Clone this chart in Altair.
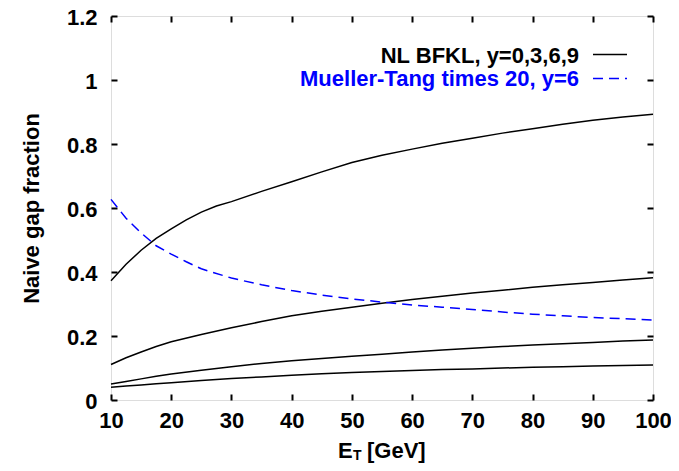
import altair as alt
import pandas as pd

# ---- data ----
et_top = [10, 12.5, 15, 17.5, 20, 22.5, 25, 27.5, 30, 35, 40, 45, 50, 55, 60, 65, 70, 75, 80, 85, 90, 95, 100]
gap_y0 = [0.373, 0.424, 0.468, 0.505, 0.535, 0.563, 0.587, 0.606, 0.620, 0.652, 0.682, 0.713, 0.742, 0.765,
          0.784, 0.802, 0.818, 0.834, 0.848, 0.862, 0.874, 0.884, 0.893]

et = [10, 12.5, 15, 17.5, 20, 25, 30, 35, 40, 45, 50, 55, 60, 65, 70, 75, 80, 85, 90, 95, 100]
gap_y3 = [0.111, 0.132, 0.150, 0.167, 0.182, 0.205, 0.226, 0.245, 0.263, 0.277, 0.290, 0.302, 0.314,
          0.324, 0.334, 0.343, 0.352, 0.360, 0.367, 0.375, 0.382]
gap_y6 = [0.050, 0.058, 0.066, 0.074, 0.081, 0.093, 0.104, 0.114, 0.123, 0.130, 0.137, 0.143, 0.150,
          0.156, 0.162, 0.167, 0.172, 0.176, 0.180, 0.184, 0.1875]
gap_y9 = [0.040, 0.044, 0.047, 0.051, 0.054, 0.061, 0.067, 0.072, 0.077, 0.082, 0.086, 0.089, 0.092,
          0.095, 0.097, 0.100, 0.102, 0.104, 0.106, 0.108, 0.109]

et_mt = [10, 12.5, 15, 17.5, 20, 22.5, 25, 30, 35, 40, 45, 50, 55, 60, 65, 70, 75, 80, 85, 90, 95, 100]
mueller_tang_x20 = [0.627, 0.568, 0.522, 0.482, 0.456, 0.432, 0.410, 0.381, 0.360, 0.342, 0.328, 0.316,
                    0.306, 0.297, 0.290, 0.283, 0.275, 0.268, 0.263, 0.258, 0.254, 0.250]

x_ticks = [10, 20, 30, 40, 50, 60, 70, 80, 90, 100]
y_ticks = [0, 0.2, 0.4, 0.6, 0.8, 1, 1.2]

legend_labels = ["NL BFKL, y=0,3,6,9", "Mueller-Tang times 20, y=6"]
x_title_parts = ["E", "T", "[GeV]"]
y_title = "Naive gap fraction"

# ---- tables ----
rows = []
for name, xs, ys in [("y=0", et_top, gap_y0), ("y=3", et, gap_y3), ("y=6", et, gap_y6), ("y=9", et, gap_y9)]:
    for x, y in zip(xs, ys):
        rows.append({"E": x, "v": y, "series": name})
df_bfkl = pd.DataFrame(rows)
df_mt = pd.DataFrame({"E": et_mt, "v": mueller_tang_x20})

W, H = 542, 384
FONT = "Liberation Sans"

x_scale = alt.Scale(domain=[10, 100], nice=False, zero=False)
y_scale = alt.Scale(domain=[0, 1.2], nice=False, zero=False)

x_axis = alt.Axis(values=x_ticks, title=None, domain=False, ticks=False,
                  grid=True, gridColor="black", gridWidth=2, gridDash=[6, H - 12], gridOpacity=1,
                  labelFont=FONT, labelFontSize=22, labelFontWeight="bold", labelColor="black",
                  labelPadding=10, labelFlush=False, labelExpr="'' + datum.value")
y_axis = alt.Axis(values=y_ticks, title=y_title, domain=False, ticks=False,
                  grid=True, gridColor="black", gridWidth=2, gridDash=[6, W - 12], gridOpacity=1,
                  labelFont=FONT, labelFontSize=22, labelFontWeight="bold", labelColor="black",
                  labelPadding=14, labelFlush=False, labelOffset=1, labelExpr="'' + datum.value",
                  titleFont=FONT, titleFontSize=22, titleFontWeight="bold", titleColor="black",
                  titleX=-80, titleY=H / 2, titleAngle=-90, titleAlign="center", titleBaseline="middle")

bfkl = alt.Chart(df_bfkl).mark_line(color="black", strokeWidth=1.5).encode(
    x=alt.X("E:Q", scale=x_scale, axis=x_axis),
    y=alt.Y("v:Q", scale=y_scale, axis=y_axis),
    detail="series:N",
)
mt = alt.Chart(df_mt).mark_line(color="#0000ff", strokeWidth=1.5, strokeDash=[10, 6]).encode(
    x="E:Q", y="v:Q"
)

one = pd.DataFrame({"k": [0]})

def label(text, x, y, size=22, color="black", align="left"):
    return alt.Chart(one).mark_text(text=text, font=FONT, fontSize=size, fontWeight="bold",
                                    color=color, align=align, baseline="alphabetic").encode(
        x=alt.value(x), y=alt.value(y))

leg1 = label(legend_labels[0], 468, 47, align="right")
leg2 = label(legend_labels[1], 468, 70, color="#0000ff", align="right")
leg1_line = alt.Chart(one).mark_rule(color="black", strokeWidth=1.5).encode(
    x=alt.value(482), x2=alt.value(516), y=alt.value(38.5))
leg2_line = alt.Chart(one).mark_rule(color="#0000ff", strokeWidth=1.5, strokeDash=[10, 6]).encode(
    x=alt.value(482), x2=alt.value(516), y=alt.value(62.5))

xt_E = label(x_title_parts[0], 227, 442)
xt_T = label(x_title_parts[1], 242, 444, size=14)
xt_G = label(x_title_parts[2], 256, 442)

chart = alt.layer(bfkl, mt, leg1, leg2, leg1_line, leg2_line, xt_E, xt_T, xt_G).properties(
    width=W, height=H,
    autosize=alt.AutoSizeParams(type="none"),
    padding={"left": 103, "top": 8, "right": 18, "bottom": 63},
).configure_view(stroke="black", strokeWidth=2).configure(background="white")

chart.save("out.html", embed_options={"renderer": "svg", "actions": False})
